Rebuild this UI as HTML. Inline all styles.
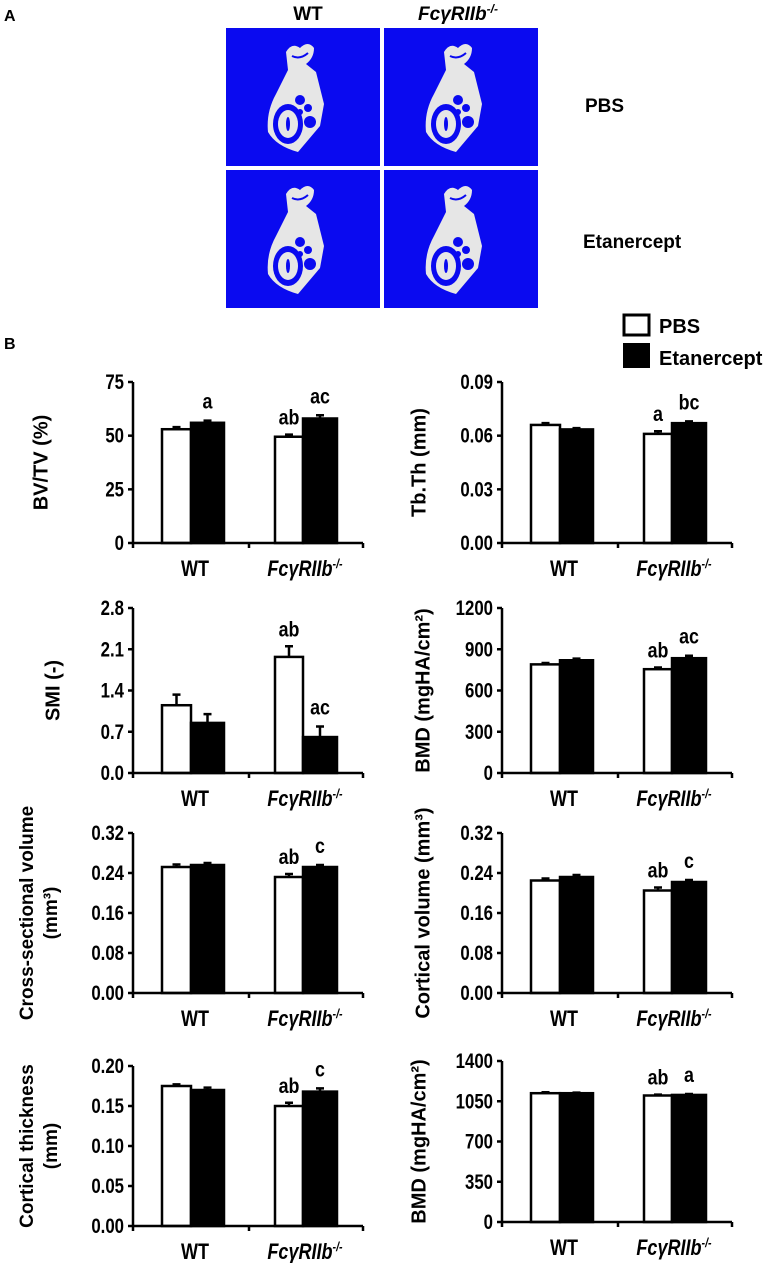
<!DOCTYPE html>
<html><head><meta charset="utf-8"><style>
body{margin:0;background:#fff;}
svg{display:block;font-family:"Liberation Sans",Arial,sans-serif;font-weight:bold;}
</style></head><body>
<svg id="fig" width="770" height="1263" viewBox="0 0 770 1263" xmlns="http://www.w3.org/2000/svg">
<text x="4" y="21" font-size="16">A</text>
<text x="308" y="20" font-size="19" text-anchor="middle">WT</text>
<text x="458" y="20" font-size="19" text-anchor="middle" font-style="italic">FcγRIIb<tspan font-size="12" dy="-7">-/-</tspan></text>
<text x="585" y="112" font-size="19">PBS</text>
<text x="583" y="248" font-size="19">Etanercept</text>
<g id="imgs"></g>
<text x="4" y="349" font-size="16">B</text>
<rect x="624" y="315" width="25" height="20" fill="#fff" stroke="#000" stroke-width="3"/>
<text x="659" y="333" font-size="20">PBS</text>
<rect x="623" y="343" width="27" height="25" fill="#000"/>
<text x="659" y="365" font-size="20">Etanercept</text>
<g id="charts"></g>
</svg>
<script>
const NS='http://www.w3.org/2000/svg';
function mk(tag,attrs,parent,txt){const e=document.createElementNS(NS,tag);for(const k in attrs)e.setAttribute(k,attrs[k]);if(txt!==undefined)e.textContent=txt;parent.appendChild(e);return e;}
const imgs=document.getElementById('imgs');
const imgPos=[[226,28,'wt-pbs'],[384,28,'fc-pbs'],[226,170,'wt-etanercept'],[384,170,'fc-etanercept']];
imgPos.forEach(p=>{
  const g=mk('g',{transform:'translate('+p[0]+','+p[1]+')'},imgs);
  
  
  mk('rect',{x:0,y:0,width:154,height:138,fill:'#0a0af0'},g);
  mk('path',{d:'M60 24 Q66 14 74 20 Q82 12 88 20 Q88 30 80 36 L90 44 L98 76 L94 98 L72 124 Q50 118 42 104 Q40 84 50 66 L62 42 Z',fill:'#e6e6e6'},g);
  mk('ellipse',{cx:62,cy:96,rx:15,ry:20,fill:'#0a0af0'},g);
  mk('ellipse',{cx:62,cy:96,rx:10,ry:14,fill:'#e6e6e6'},g);
  mk('ellipse',{cx:62,cy:96,rx:2,ry:7,fill:'#0a0af0'},g);
  mk('circle',{cx:74,cy:72,r:5,fill:'#0a0af0'},g);
  mk('circle',{cx:82,cy:80,r:4,fill:'#0a0af0'},g);
  mk('circle',{cx:84,cy:94,r:6,fill:'#0a0af0'},g);
  mk('circle',{cx:74,cy:84,r:3,fill:'#0a0af0'},g);
  mk('path',{d:'M66 28 Q74 32 82 25',stroke:'#0a0af0','stroke-width':2,fill:'none'},g);
});

const categories=['WT','FcγRIIb'];
const bvtvPBS=[53,49.5], bvtvEt=[56,58], bvtvErrP=[1,1], bvtvErrE=[1,1.5];
const tbthPBS=[0.066,0.061], tbthEt=[0.0635,0.067], tbthErrP=[0.001,0.0015], tbthErrE=[0.0007,0.001];
const smiPBS=[1.15,1.97], smiEt=[0.85,0.61], smiErrP=[0.18,0.18], smiErrE=[0.15,0.18];
const bmdTPBS=[790,755], bmdTEt=[820,835], bmdTErrP=[10,12], bmdTErrE=[12,18];
const csvPBS=[0.252,0.232], csvEt=[0.256,0.252], csvErrP=[0.005,0.006], csvErrE=[0.004,0.004];
const cvPBS=[0.225,0.205], cvEt=[0.232,0.222], cvErrP=[0.004,0.006], cvErrE=[0.004,0.004];
const ctPBS=[0.175,0.150], ctEt=[0.170,0.168], ctErrP=[0.002,0.004], ctErrE=[0.003,0.004];
const bmdCPBS=[1120,1100], bmdCEt=[1120,1105], bmdCErrP=[8,8], bmdCErrE=[5,8];
const bvtvTicks=['0','25','50','75'], tbthTicks=['0.00','0.03','0.06','0.09'], smiTicks=['0.0','0.7','1.4','2.1','2.8'];
const bmdTTicks=['0','300','600','900','1200'], volTicks=['0.00','0.08','0.16','0.24','0.32'];
const ctTicks=['0.00','0.05','0.10','0.15','0.20'], bmdCTicks=['0','350','700','1050','1400'];
const charts=[
 {name:'bvtv',x:133,top:382,bot:543,max:75,ticks:bvtvTicks,p:bvtvPBS,e:bvtvEt,ep:bvtvErrP,ee:bvtvErrE,sig:[['','a'],['ab','ac']],title:['BV/TV (%)'],tx:[42]},
 {name:'tbth',x:502,top:382,bot:543,max:0.09,ticks:tbthTicks,p:tbthPBS,e:tbthEt,ep:tbthErrP,ee:tbthErrE,sig:[['',''],['a','bc']],title:['Tb.Th (mm)'],tx:[420]},
 {name:'smi',x:133,top:608,bot:773,max:2.8,ticks:smiTicks,p:smiPBS,e:smiEt,ep:smiErrP,ee:smiErrE,sig:[['',''],['ab','ac']],title:['SMI (-)'],tx:[54]},
 {name:'bmd-trabecular',x:502,top:608,bot:773,max:1200,ticks:bmdTTicks,p:bmdTPBS,e:bmdTEt,ep:bmdTErrP,ee:bmdTErrE,sig:[['',''],['ab','ac']],title:['BMD (mgHA/cm²)'],tx:[424]},
 {name:'cross-sectional-volume',x:133,top:833,bot:993,max:0.32,ticks:volTicks,p:csvPBS,e:csvEt,ep:csvErrP,ee:csvErrE,sig:[['',''],['ab','c']],title:['Cross-sectional volume','(mm³)'],tx:[28,52]},
 {name:'cortical-volume',x:502,top:833,bot:993,max:0.32,ticks:volTicks,p:cvPBS,e:cvEt,ep:cvErrP,ee:cvErrE,sig:[['',''],['ab','c']],title:['Cortical volume (mm³)'],tx:[424]},
 {name:'cortical-thickness',x:133,top:1066,bot:1226,max:0.2,ticks:ctTicks,p:ctPBS,e:ctEt,ep:ctErrP,ee:ctErrE,sig:[['',''],['ab','c']],title:['Cortical thickness','(mm)'],tx:[28,52]},
 {name:'bmd-cortical',x:502,top:1061,bot:1222,max:1400,ticks:bmdCTicks,p:bmdCPBS,e:bmdCEt,ep:bmdCErrP,ee:bmdCErrE,sig:[['',''],['ab','a']],title:['BMD (mgHA/cm²)'],tx:[420]}
];
const root=document.getElementById('charts');
charts.forEach(c=>{
  const g=mk('g',{},root);
  
  
  const y=v=>c.bot-(v/c.max)*(c.bot-c.top);
  const L=230;
  const offs=[[29,58,91],[142,170,204]];
  for(let i=0;i<2;i++){
    const o=offs[i];
    const xs=[[c.x+o[0],o[1]-o[0]],[c.x+o[1],o[2]-o[1]]];
    const vals=[c.p[i],c.e[i]], errs=[c.ep[i],c.ee[i]];
    for(let s=0;s<2;s++){
      const bx=xs[s][0], bw=xs[s][1], v=vals[s], yt=y(v), ye=y(v+errs[s]);
      const cx=bx+bw/2;
      const eb=mk('path',{d:'M'+cx+' '+yt+' V'+ye+' M'+(cx-4)+' '+ye+' H'+(cx+4),stroke:'#000','stroke-width':2.5,fill:'none'},g);
      
      
      const r=mk('rect',{x:bx,y:yt,width:bw,height:c.bot-yt,fill:s?'#000':'#fff',stroke:'#000','stroke-width':2.5},g);
      
      
      const lab=c.sig[i][s];
      if(lab){
        const t=mk('text',{transform:'translate('+cx+','+(ye-(s?12:10))+') scale(0.85,1)','font-size':21,'text-anchor':'middle'},g,lab);
        
        
      }
    }
  }
  const ax=mk('path',{d:'M'+c.x+' '+c.top+' V'+c.bot+' H'+(c.x+L)+' M'+(c.x+116)+' '+c.bot+' v5 M'+(c.x+L)+' '+c.bot+' v5 M'+c.x+' '+c.bot+' v5',stroke:'#000','stroke-width':2.5,fill:'none'},g);
  
  
  c.ticks.forEach((t,k)=>{
    const ty=c.bot-k/(c.ticks.length-1)*(c.bot-c.top);
    mk('path',{d:'M'+(c.x-5)+' '+ty+' H'+c.x,stroke:'#000','stroke-width':2.5},g);
    const tl=mk('text',{transform:'translate('+(c.x-9)+','+(ty+7)+') scale(0.8,1)','font-size':21,'text-anchor':'end'},g,t);
    
    
  });
  const cl1=mk('text',{transform:'translate('+(c.x+62)+','+(c.bot+33)+') scale(0.82,1)','font-size':22,'text-anchor':'middle'},g,categories[0]);
  
  
  const cl2=mk('text',{transform:'translate('+(c.x+172)+','+(c.bot+33)+') scale(0.82,1)','font-size':22,'text-anchor':'middle','font-style':'italic'},g,categories[1]);
  
  
  mk('tspan',{'font-size':13,dy:-8},cl2,'-/-');
  const cy=(c.top+c.bot)/2;
  c.title.forEach((tt,k)=>{
    const tx=c.tx[k];
    const te=mk('text',{x:tx,y:cy,'font-size':c.title.length>1?19:20,'text-anchor':'middle',transform:'rotate(-90 '+tx+' '+cy+')','dominant-baseline':'middle'},g,tt);
    
    
  });
});
</script>
</body></html>
